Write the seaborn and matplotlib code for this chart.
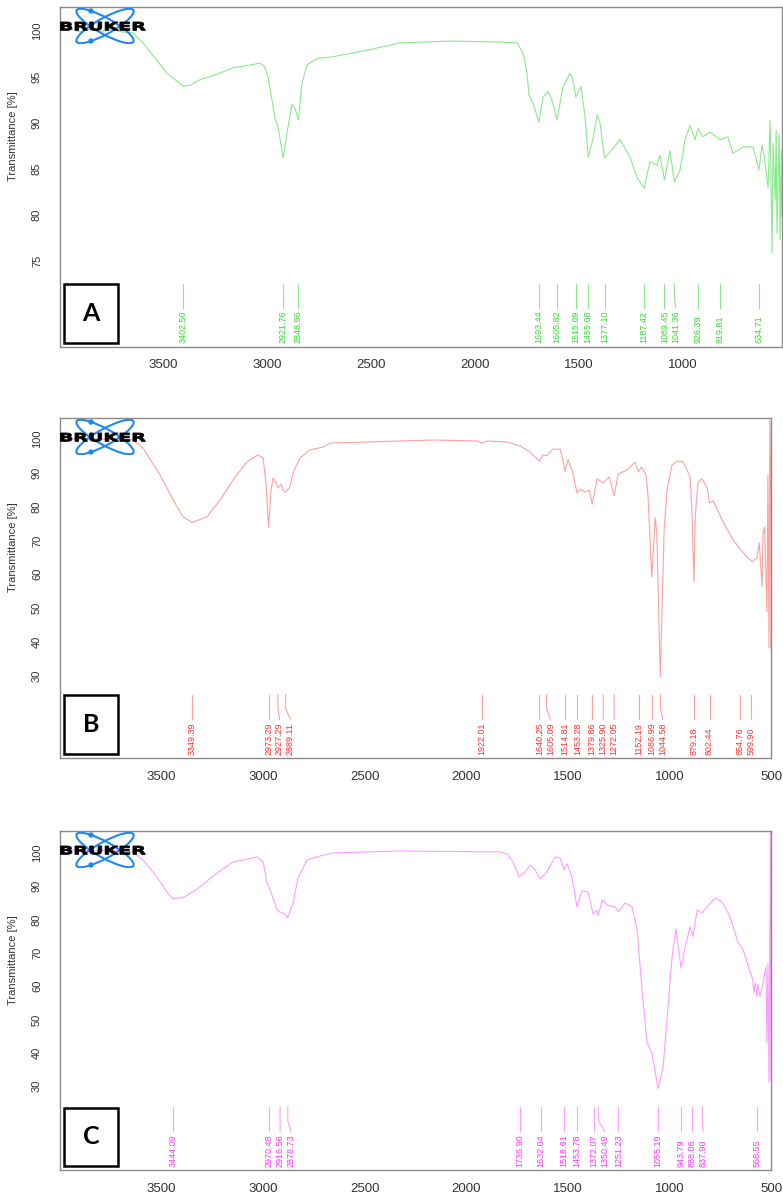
import matplotlib
matplotlib.use("Agg")
import matplotlib.pyplot as plt
import seaborn as sns
from matplotlib.patches import Ellipse, Rectangle, Circle, PathPatch
from matplotlib.textpath import TextPath
from matplotlib.font_manager import FontProperties
from matplotlib.transforms import Affine2D

# ---- spectrum A (wavenumber, transmittance) ----
wn_a = [3995, 3950, 3900, 3850, 3800, 3750, 3700, 3644, 3596, 3529, 3481, 3418, 3402,
        3370, 3322, 3240, 3163, 3082, 3034, 3010, 2995, 2976, 2961, 2947, 2922, 2904,
        2880, 2865, 2849, 2832, 2808, 2759, 2682, 2519, 2360, 2120, 1880, 1798, 1769,
        1750, 1740, 1721, 1693, 1673, 1649, 1630, 1606, 1577, 1543, 1529, 1515, 1490,
        1471, 1456, 1433, 1413, 1399, 1377, 1341, 1303, 1255, 1221, 1187, 1159, 1125,
        1111, 1089, 1063, 1041, 1014, 990, 966, 942, 928, 904, 870, 822, 784, 760, 711,
        663, 635, 620, 610, 591, 581, 572, 567, 557, 552, 548, 538, 533, 528, 525]
tr_a = [100.1, 100.3, 99.9, 100.2, 99.9, 100.2, 99.9, 99.8, 98.7, 96.8, 95.4, 94.3, 94.0,
        94.1, 94.7, 95.3, 96.0, 96.3, 96.5, 96.1, 95.0, 92.5, 90.5, 89.6, 86.2, 88.9,
        92.0, 91.6, 90.3, 94.3, 96.3, 97.0, 97.2, 97.9, 98.7, 98.9, 98.8, 98.7, 97.6,
        95.4, 93.0, 92.2, 90.1, 92.8, 93.4, 92.5, 90.3, 93.9, 95.4, 94.7, 92.8, 94.0,
        90.7, 86.3, 88.2, 90.9, 90.0, 86.2, 87.1, 88.2, 86.3, 84.1, 82.9, 85.8, 85.4,
        86.5, 83.8, 87.0, 83.6, 84.9, 88.2, 89.7, 88.2, 89.4, 88.5, 89.0, 88.2, 88.5, 86.7, 87.4,
        87.4, 84.9, 87.6, 86.5, 83.0, 90.3, 75.9, 87.8, 81.6, 89.2, 78.0, 88.9, 77.3, 87.0, 79.8]
peaks_a = [3402.50, 2921.76, 2848.96, 1693.44, 1605.82, 1515.09, 1455.08, 1377.10,
           1187.42, 1089.45, 1041.36, 926.39, 819.81, 634.71]

# ---- spectrum B ----
wn_b = [4000, 3700, 3640, 3591, 3508, 3443, 3394, 3349, 3277, 3212, 3148, 3080, 3025,
        3000, 2986, 2973, 2961, 2951, 2937, 2927, 2912, 2902, 2889, 2868, 2853, 2818,
        2769, 2705, 2670, 2489, 2326, 2163, 1947, 1922, 1898, 1799, 1735, 1686, 1652,
        1640, 1622, 1605, 1573, 1538, 1524, 1515, 1499, 1479, 1455, 1440, 1415, 1395,
        1380, 1356, 1326, 1297, 1272, 1252, 1208, 1169, 1152, 1139, 1115, 1105, 1087,
        1070, 1062, 1045, 1026, 1012, 987, 962, 932, 898, 889, 879, 873, 859, 840, 815,
        802, 785, 736, 687, 637, 593, 569, 558, 544, 539, 531, 520, 515, 510, 505, 501, 500]
tr_b = [100.0, 100.0, 99.7, 97.3, 89.4, 82.0, 77.0, 75.3, 77.0, 82.0, 87.9, 93.2, 95.3,
        94.4, 87.0, 73.7, 84.9, 88.5, 87.0, 85.5, 86.7, 84.9, 84.3, 85.8, 90.0, 94.4,
        96.8, 97.6, 98.8, 99.1, 99.4, 99.7, 99.4, 98.8, 99.4, 99.1, 97.9, 96.2, 94.1,
        93.5, 95.3, 95.0, 97.0, 97.0, 93.8, 90.5, 93.8, 90.8, 84.1, 85.2, 84.3, 84.9,
        80.8, 88.2, 87.0, 88.8, 83.2, 89.7, 90.8, 93.2, 90.3, 91.7, 89.4, 82.9, 59.2,
        76.7, 72.0, 29.7, 73.1, 84.9, 92.3, 93.5, 93.2, 88.8, 78.1, 57.8, 77.0, 87.3, 88.2, 85.8,
        81.1, 81.7, 75.5, 70.2, 66.3, 63.7, 64.9, 69.3, 56.3, 72.2, 74.0, 48.9, 89.4, 38.3, 105.6, 84.9, 38.0]
peaks_b = [3349.39, 2973.29, 2927.29, 2889.11, 1922.01, 1640.25, 1605.09, 1514.81,
           1453.28, 1379.86, 1325.90, 1272.05, 1152.19, 1086.99, 1044.58, 879.18,
           802.44, 654.76, 599.90]

# ---- spectrum C ----
wn_c = [4000, 3700, 3640, 3591, 3523, 3474, 3444, 3385, 3311, 3227, 3148, 3030, 3000,
        2981, 2970, 2951, 2932, 2916, 2895, 2879, 2853, 2828, 2784, 2720, 2656, 2326,
        1834, 1799, 1769, 1740, 1710, 1686, 1661, 1637, 1603, 1563, 1538, 1519, 1504,
        1479, 1455, 1430, 1400, 1376, 1356, 1351, 1331, 1307, 1267, 1252, 1218, 1184,
        1159, 1135, 1110, 1086, 1056, 1031, 1007, 987, 968, 943, 918, 898, 884, 864,
        840, 815, 775, 741, 701, 662, 637, 603, 590, 585, 578, 570, 565, 554, 539, 525,
        520, 515, 510, 502, 500]
tr_c = [100.8, 100.8, 100.3, 97.9, 92.8, 88.3, 86.2, 86.8, 89.8, 94.0, 97.3, 98.8, 97.3,
        91.0, 89.5, 86.5, 82.9, 82.2, 81.8, 80.5, 85.0, 92.5, 97.9, 99.1, 100.0, 100.6,
        100.3, 99.7, 97.3, 92.8, 94.3, 96.4, 94.9, 92.2, 94.3, 98.8, 98.5, 94.9, 96.7,
        92.5, 83.8, 88.6, 88.3, 81.7, 82.9, 81.1, 85.9, 84.4, 83.8, 82.3, 85.0, 83.8,
        76.9, 58.9, 43.0, 40.0, 29.2, 35.8, 53.8, 68.8, 77.2, 65.5, 73.0, 77.8, 74.8, 82.9,
        82.0, 83.8, 86.5, 85.3, 80.8, 73.0, 70.9, 64.3, 62.0, 58.0, 61.0, 57.0, 60.5, 56.8, 61.0, 65.8,
        43.0, 67.0, 31.0, 106.6, 32.0]
peaks_c = [3444.09, 2970.48, 2916.56, 2878.73, 1736.90, 1632.04, 1518.61, 1453.78,
           1372.07, 1350.49, 1251.23, 1055.19, 943.79, 888.06, 837.90, 568.55]

sns.set_style("white")
plt.rcParams['font.family'] = ['Liberation Sans', 'DejaVu Sans']

W, H = 783, 1197
fig = plt.figure(figsize=(W / 100, H / 100), dpi=100)


def spread(peaks, gap=54):
    # push crowded labels to the right, like the instrument software does
    pos = []
    for p in peaks:
        pos.append(p if not pos else min(p, pos[-1] - gap))
    return pos


def draw_logo(top_px):
    lax = fig.add_axes([60 / W, 1 - (top_px + 37) / H, 86 / W, 36 / H])
    lax.set_xlim(0, 86)
    lax.set_ylim(0, 36)
    lax.axis('off')
    blue = '#1e88f0'
    for ang in (29, -29):
        lax.add_patch(Ellipse((45, 18), 65, 16, angle=ang, fill=False,
                              ec=blue, lw=1.5))
    lax.add_patch(Circle((31, 33), 2.0, color=blue))
    lax.add_patch(Circle((31, 3), 2.0, color=blue))
    tp = TextPath((0, 0), "BRUKER", size=10,
                  prop=FontProperties(family='DejaVu Sans', weight='bold'))
    ext = tp.get_extents()
    tr = (Affine2D().translate(-ext.x0, -ext.y0)
          .scale(85 / ext.width, 8.5 / ext.height).translate(0.5, 13.5))
    lax.add_patch(PathPatch(tr.transform_path(tp), fc='black', ec='black',
                            lw=0.6, zorder=5))


def panel(rect_px, wn, tr, peaks, line_col, text_col, letter, xlim, ylim, yticks, xticks):
    l, t, r, b = rect_px
    ax = fig.add_axes([l / W, 1 - b / H, (r - l) / W, (b - t) / H])
    sns.lineplot(x=wn, y=tr, ax=ax, color=line_col, linewidth=0.8,
                 estimator=None, sort=False)
    ax.set_xlim(*xlim)
    ax.set_ylim(*ylim)
    ax.set_yticks(yticks)
    ax.set_xticks(xticks)
    ax.set_xlabel('')
    ax.set_ylabel('Transmittance [%]', fontsize=8, color='#333333')
    ax.yaxis.set_label_coords(-42 / (r - l), 0.62)
    for s in ax.spines.values():
        s.set_color('#8a8a8a')
        s.set_linewidth(1.0)
    ax.tick_params(axis='both', direction='out', length=5, width=1,
                   color='#8a8a8a', labelcolor='#333333')
    ax.tick_params(axis='x', labelsize=9.5, pad=4)
    ax.tick_params(axis='y', labelsize=8, pad=8)
    for lab in ax.get_yticklabels():
        lab.set_rotation(90)
        lab.set_va('center')
    ax.grid(False)

    # peak markers
    trans = ax.get_xaxis_transform()
    for p, q in zip(peaks, spread(peaks)):
        if abs(p - q) < 1e-6:
            ax.plot([p, p], [0.186, 0.114], transform=trans, color=line_col, lw=0.8)
        else:
            ax.plot([p, p, q], [0.186, 0.145, 0.114], transform=trans,
                    color=line_col, lw=0.8)
        ax.text(q, 0.01, f"{p:.2f}", transform=trans, rotation=90,
                ha='center', va='bottom', fontsize=6.5, color=text_col)

    # letter box
    ax.add_patch(Rectangle((4 / (r - l), 0.012), 54 / (r - l), 0.172,
                           transform=ax.transAxes, fc='white', ec='black',
                           lw=1.8, zorder=6))
    ax.text(31 / (r - l), 0.098, letter, transform=ax.transAxes, ha='center',
            va='center', fontsize=18, fontweight='bold', color='black',
            family=['Lato', 'DejaVu Sans'], zorder=7)
    draw_logo(t)
    return ax


panel((60, 7, 782, 346.7), wn_a, tr_a, peaks_a, '#8ce88c', '#2edc2e', 'A',
      (3995, 524), (65.7, 102.6), [75, 80, 85, 90, 95, 100],
      [3500, 3000, 2500, 2000, 1500, 1000])
panel((60, 418, 771, 758), wn_b, tr_b, peaks_b, '#ffa0a0', '#ff3030', 'B',
      (4000, 500), (5.7, 106.2), [30, 40, 50, 60, 70, 80, 90, 100],
      [3500, 3000, 2500, 2000, 1500, 1000, 500])
panel((60, 831, 771, 1170), wn_c, tr_c, peaks_c, '#ff9cff', '#ff30ff', 'C',
      (4000, 500), (4.8, 106.6), [30, 40, 50, 60, 70, 80, 90, 100],
      [3500, 3000, 2500, 2000, 1500, 1000, 500])

fig.savefig('out.png', dpi=100)
